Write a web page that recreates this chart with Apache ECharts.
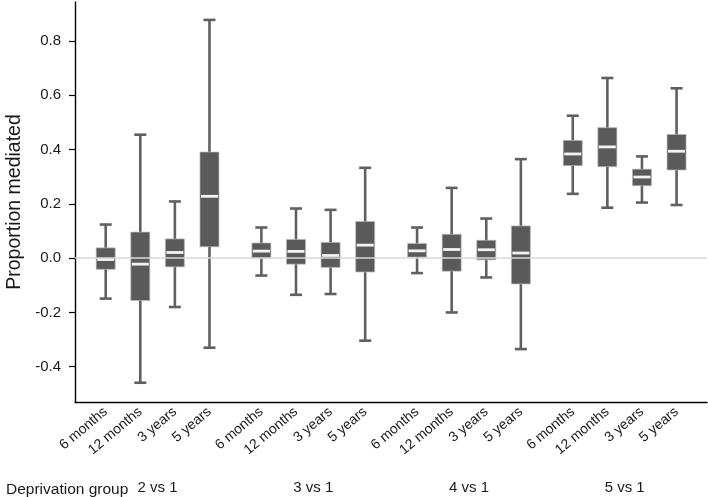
<!DOCTYPE html>
<html>
<head>
<meta charset="utf-8">
<script src="https://cdn.jsdelivr.net/npm/echarts@6/dist/echarts.min.js"></script>
<style>html,body{margin:0;padding:0;background:#fff;}#c{width:708px;height:497px;}</style>
</head>
<body>
<div id="c"></div>
<script>
// Time points within each deprivation group
const timepoints = ['6 months', '12 months', '3 years', '5 years'];
// Deprivation group comparisons
const groups = ['2 vs 1', '3 vs 1', '4 vs 1', '5 vs 1'];
// Box statistics per time point: [lower whisker, Q1, median, Q3, upper whisker]
const group2vs1 = [
  [-0.149, -0.041, -0.005, 0.038, 0.124],
  [-0.459, -0.156, -0.022, 0.096, 0.455],
  [-0.180, -0.032, 0.021, 0.071, 0.209],
  [-0.330, 0.042, 0.228, 0.391, 0.878]
];
const group3vs1 = [
  [-0.064, 0.000, 0.026, 0.056, 0.113],
  [-0.135, -0.022, 0.025, 0.069, 0.183],
  [-0.132, -0.034, 0.010, 0.058, 0.178],
  [-0.304, -0.051, 0.048, 0.135, 0.333]
];
const group4vs1 = [
  [-0.055, 0.004, 0.027, 0.054, 0.113],
  [-0.200, -0.048, 0.032, 0.088, 0.259],
  [-0.071, -0.006, 0.031, 0.066, 0.146],
  [-0.335, -0.095, 0.019, 0.119, 0.365]
];
const group5vs1 = [
  [0.237, 0.341, 0.384, 0.434, 0.525],
  [0.186, 0.337, 0.410, 0.481, 0.664],
  [0.205, 0.267, 0.299, 0.328, 0.375],
  [0.196, 0.325, 0.394, 0.456, 0.626]
];
const yTicks = [-0.4, -0.2, 0, 0.2, 0.4, 0.6, 0.8];

const allGroups = [group2vs1, group3vs1, group4vs1, group5vs1];
const GROUP_STEP = 4.5; // 4 boxes + 1.5 slot gap
const positions = [];
const posLabel = {};
const data = [];
allGroups.forEach((g, gi) => {
  g.forEach((s, ti) => {
    const p = gi * GROUP_STEP + ti;
    positions.push(p);
    posLabel[p.toFixed(2)] = timepoints[ti];
    data.push([p].concat(s));
  });
});
const groupCenters = groups.map((_, gi) => gi * GROUP_STEP + 1.5);
const groupLabel = {};
groupCenters.forEach((p, i) => { groupLabel[p.toFixed(2)] = groups[i]; });

const FONT = '"Liberation Sans", Arial, sans-serif';
const chart = echarts.init(document.getElementById('c'), null, {renderer: 'canvas'});

chart.setOption({
  animation: false,
  backgroundColor: '#ffffff',
  title: {
    text: 'Deprivation group',
    left: 1, top: 477,
    textStyle: {fontFamily: FONT, fontSize: 15.5, fontWeight: 'normal', color: '#1a1a1a'}
  },
  grid: {left: 75, right: 1, top: 2, bottom: 95, containLabel: false, outerBoundsMode: 'none'},
  xAxis: [{
    type: 'value',
    min: -0.887, max: 17.38,
    splitLine: {show: false},
    axisLine: {show: true, onZero: false, lineStyle: {color: '#000', width: 1.4}},
    axisTick: {show: false},
    axisLabel: {
      customValues: positions,
      rotate: 40,
      margin: 8,
      hideOverlap: false,
      fontFamily: FONT, fontSize: 14, color: '#1a1a1a',
      formatter: v => posLabel[Number(v).toFixed(2)] || ''
    }
  }, {
    type: 'value',
    min: -0.887, max: 17.38,
    position: 'bottom',
    offset: 70,
    splitLine: {show: false},
    axisLine: {show: false},
    axisTick: {show: false},
    axisLabel: {
      customValues: groupCenters,
      margin: 8,
      fontFamily: FONT, fontSize: 15, color: '#1a1a1a',
      formatter: v => groupLabel[Number(v).toFixed(2)] || ''
    }
  }],
  yAxis: {
    type: 'value',
    min: -0.530, max: 0.944,
    name: 'Proportion mediated',
    nameLocation: 'middle',
    nameGap: 43,
    nameTextStyle: {fontFamily: FONT, fontSize: 19.5, color: '#1a1a1a'},
    splitLine: {show: false},
    axisLine: {show: true, onZero: false, lineStyle: {color: '#000', width: 1.4}},
    axisTick: {show: true, length: 6, customValues: yTicks, lineStyle: {color: '#000', width: 1.2}},
    axisLabel: {
      customValues: yTicks,
      margin: 14,
      fontFamily: FONT, fontSize: 15, color: '#1a1a1a',
      formatter: v => Number(v).toFixed(1)
    }
  },
  series: [{
    type: 'line',
    data: [],
    z: 1,
    silent: true,
    markLine: {
      silent: true,
      symbol: ['none', 'none'],
      label: {show: false},
      lineStyle: {color: '#d9d9d9', type: 'solid', width: 1.6},
      data: [{yAxis: 0}]
    }
  }, {
    type: 'custom',
    z: 3,
    data: data,
    encode: {x: 0, y: [1, 2, 3, 4, 5]},
    renderItem: function (params, api) {
      const x = api.value(0);
      const lo = api.coord([x, api.value(1)]);
      const q1 = api.coord([x, api.value(2)]);
      const md = api.coord([x, api.value(3)]);
      const q3 = api.coord([x, api.value(4)]);
      const hi = api.coord([x, api.value(5)]);
      const cx = lo[0];
      const bw = 19, cw = 12;
      const stroke = '#606060';
      return {
        type: 'group',
        children: [
          {type: 'line', shape: {x1: cx, y1: hi[1], x2: cx, y2: lo[1]}, style: {stroke: stroke, lineWidth: 2.6}},
          {type: 'line', shape: {x1: cx - cw / 2, y1: hi[1], x2: cx + cw / 2, y2: hi[1]}, style: {stroke: stroke, lineWidth: 2.6}},
          {type: 'line', shape: {x1: cx - cw / 2, y1: lo[1], x2: cx + cw / 2, y2: lo[1]}, style: {stroke: stroke, lineWidth: 2.6}},
          {type: 'rect', shape: {x: cx - bw / 2, y: q3[1], width: bw, height: q1[1] - q3[1]},
            style: {fill: '#5a5a5a', stroke: '#b8b8b8', lineWidth: 0.7}},
          {type: 'line', shape: {x1: cx - bw / 2 + 1, y1: md[1], x2: cx + bw / 2 - 1, y2: md[1]},
            style: {stroke: '#f3f3f3', lineWidth: 2.8}}
        ]
      };
    }
  }]
});
</script>
</body>
</html>
